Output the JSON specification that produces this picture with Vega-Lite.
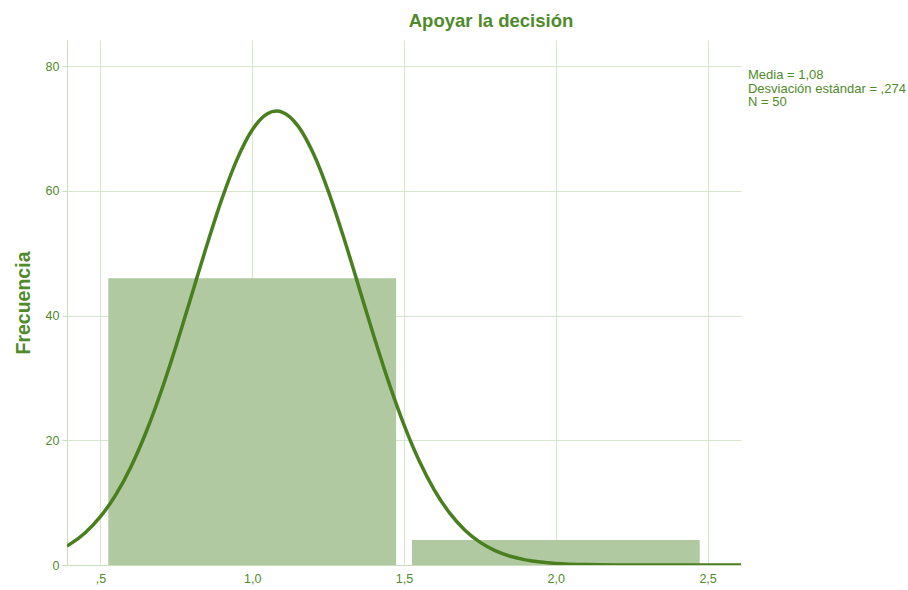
{
  "$schema": "https://vega.github.io/schema/vega-lite/v6.json",
  "width": 674,
  "height": 525,
  "autosize": "none",
  "padding": {"left": 67, "top": 40, "right": 167, "bottom": 25},
  "background": "white",
  "config": {
    "view": {"stroke": null},
    "font": "Liberation Sans"
  },
  "title": {
    "text": "Apoyar la decisión",
    "font": "Liberation Sans",
    "fontSize": 18.5,
    "fontWeight": "bold",
    "color": "#4f8a2b",
    "anchor": "middle",
    "dx": 87,
    "offset": 10
  },
  "datasets": {
    "bars": [
      {"x0": 0.526, "x1": 1.474, "count": 46},
      {"x0": 1.526, "x1": 2.474, "count": 4}
    ],
    "curve": [
      {"x": 0.39, "y": 3.057}, {"x": 0.40, "y": 3.347}, {"x": 0.45, "y": 5.178}, {"x": 0.50, "y": 7.748},
      {"x": 0.55, "y": 11.211}, {"x": 0.60, "y": 15.694}, {"x": 0.65, "y": 21.248}, {"x": 0.70, "y": 27.827},
      {"x": 0.75, "y": 35.250}, {"x": 0.80, "y": 43.190}, {"x": 0.85, "y": 51.186}, {"x": 0.90, "y": 58.670},
      {"x": 0.95, "y": 65.050}, {"x": 1.00, "y": 69.763}, {"x": 1.05, "y": 72.365}, {"x": 1.08, "y": 72.800},
      {"x": 1.10, "y": 72.606}, {"x": 1.15, "y": 70.462}, {"x": 1.20, "y": 66.142}, {"x": 1.25, "y": 60.054},
      {"x": 1.30, "y": 52.740}, {"x": 1.35, "y": 44.801}, {"x": 1.40, "y": 36.808}, {"x": 1.45, "y": 29.252},
      {"x": 1.50, "y": 22.487}, {"x": 1.55, "y": 16.719}, {"x": 1.60, "y": 12.024}, {"x": 1.65, "y": 8.364},
      {"x": 1.70, "y": 5.626}, {"x": 1.75, "y": 3.662}, {"x": 1.80, "y": 2.305}, {"x": 1.85, "y": 1.404},
      {"x": 1.90, "y": 0.826}, {"x": 1.95, "y": 0.471}, {"x": 2.00, "y": 0.260}, {"x": 2.10, "y": 0.071},
      {"x": 2.20, "y": 0.017}, {"x": 2.30, "y": 0.004}, {"x": 2.40, "y": 0.001}, {"x": 2.61, "y": 0.0}
    ],
    "stats": [
      {"lines": ["Media = 1,08", "Desviación estándar = ,274", "N = 50"], "xpos": 2.633, "ypos": 79.5}
    ]
  },
  "layer": [
    {
      "data": {"name": "bars"},
      "mark": {"type": "rect", "color": "#b0c9a0"},
      "encoding": {
        "x": {
          "field": "x0", "type": "quantitative",
          "scale": {"domain": [0.39, 2.61], "nice": false, "zero": false},
          "axis": {
            "values": [0.5, 1, 1.5, 2, 2.5],
            "labelExpr": "datum.value < 1 ? ',5' : replace(format(datum.value, '.1f'), '.', ',')",
            "title": null,
            "grid": true,
            "gridColor": "#d8e5cf",
            "gridWidth": 1,
            "domainColor": "#c9dcbd",
            "ticks": false,
            "labelPadding": 7,
            "labelColor": "#4f8a2b",
            "labelFont": "Liberation Sans",
            "labelFontSize": 12.5
          }
        },
        "x2": {"field": "x1"},
        "y": {
          "field": "count", "type": "quantitative",
          "scale": {"domain": [0, 84.2], "nice": false},
          "axis": {
            "values": [0, 20, 40, 60, 80],
            "title": "Frecuencia",
            "titleFont": "Liberation Sans",
            "titleFontSize": 19.5,
            "titleFontWeight": "bold",
            "titleColor": "#4f8a2b",
            "titlePadding": 12,
            "grid": true,
            "gridColor": "#d8e5cf",
            "domainColor": "#c9dcbd",
            "tickColor": "#c9dcbd",
            "tickSize": 5,
            "labelPadding": 3,
            "labelColor": "#4f8a2b",
            "labelFont": "Liberation Sans",
            "labelFontSize": 12.5
          }
        },
        "y2": {"datum": 0}
      }
    },
    {
      "data": {"name": "curve"},
      "mark": {"type": "line", "color": "#4a7f20", "strokeWidth": 3.5, "interpolate": "monotone", "clip": true},
      "encoding": {
        "x": {"field": "x", "type": "quantitative"},
        "y": {"field": "y", "type": "quantitative"}
      }
    },
    {
      "data": {"name": "stats"},
      "mark": {"type": "text", "align": "left", "baseline": "top", "color": "#4f8a2b", "font": "Liberation Sans", "fontSize": 13, "lineHeight": 13.5},
      "encoding": {
        "x": {"field": "xpos", "type": "quantitative"},
        "y": {"field": "ypos", "type": "quantitative"},
        "text": {"field": "lines"}
      }
    }
  ]
}
